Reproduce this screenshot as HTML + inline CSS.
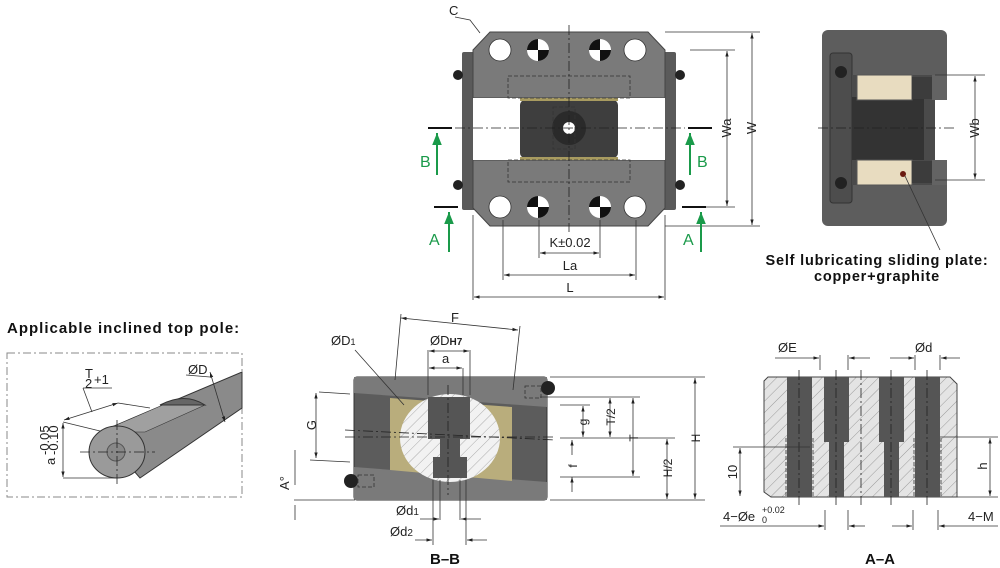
<!DOCTYPE html>
<html><head><meta charset="utf-8"><style>
html,body{margin:0;padding:0;background:#fff;}
svg{display:block;font-family:"Liberation Sans",Arial,sans-serif;}
.t{font-size:13px;fill:#222;}
.d{stroke:#333;stroke-width:0.8;fill:none;}
.c{stroke:#222;stroke-width:0.8;fill:none;stroke-dasharray:10 3 2 3;}
.h{stroke:#333;stroke-width:0.8;fill:none;stroke-dasharray:4 2;}
</style></head><body>
<svg width="1000" height="568" viewBox="0 0 1000 568" xmlns="http://www.w3.org/2000/svg">
<defs>
<pattern id="hat" width="8" height="8" patternUnits="userSpaceOnUse" patternTransform="rotate(45)">
<rect width="8" height="8" fill="#e4e4e4"/><line x1="0" y1="0" x2="0" y2="8" stroke="#888" stroke-width="0.8"/></pattern>
<pattern id="hat2" width="8" height="8" patternUnits="userSpaceOnUse" patternTransform="rotate(45)">
<rect width="8" height="8" fill="#f2f2f2"/><line x1="0" y1="0" x2="0" y2="8" stroke="#999" stroke-width="0.8"/></pattern>
<marker id="ar" viewBox="0 0 10 10" refX="10" refY="5" markerWidth="7" markerHeight="7" orient="auto-start-reverse"><path d="M0,2 L10,5 L0,8 z" fill="#222"/></marker>
<marker id="ga" viewBox="0 0 10 10" refX="10" refY="5" markerWidth="6" markerHeight="6" orient="auto"><path d="M0,1 L10,5 L0,9 z" fill="#1a9a4a"/></marker>
</defs>

<!-- ===== TOP VIEW ===== -->
<rect x="462" y="52" width="14" height="158" fill="#5a5a5a" rx="2"/>
<rect x="662" y="52" width="14" height="158" fill="#5a5a5a" rx="2"/>
<polygon points="490,32 648,32 665,50 665,98 473,98 473,50" fill="#7a7a7a" stroke="#444"/>
<polygon points="473,160 665,160 665,208 648,226 490,226 473,208" fill="#7a7a7a" stroke="#444"/>
<rect x="473" y="98" width="192" height="62" fill="#fff"/>
<rect x="520" y="100" width="98" height="58" rx="5" fill="#3e3e3e"/>
<rect x="520" y="98" width="98" height="3" fill="#a89b60"/>
<rect x="520" y="157" width="98" height="3" fill="#a89b60"/>
<circle cx="569" cy="128" r="17" fill="#2a2a2a"/><circle cx="569" cy="128" r="6" fill="#fff"/>
<circle cx="458" cy="75" r="5" fill="#222"/><circle cx="458" cy="185" r="5" fill="#222"/>
<circle cx="680" cy="75" r="5" fill="#222"/><circle cx="680" cy="185" r="5" fill="#222"/>
<g class="h"><rect x="508" y="76" width="122" height="22"/><rect x="508" y="160" width="122" height="22"/><rect x="553" y="107" width="22" height="42"/></g>
<g fill="#fff" stroke="#333" stroke-width="0.8"><circle cx="500" cy="50" r="11"/><circle cx="635" cy="50" r="11"/><circle cx="500" cy="207" r="11"/><circle cx="635" cy="207" r="11"/></g>
<g>
<circle cx="538" cy="50" r="11" fill="#fff"/><path d="M538,50 L538,39 A11,11 0 0,0 527,50 Z M538,50 L538,61 A11,11 0 0,0 549,50 Z" fill="#111"/>
<circle cx="600" cy="50" r="11" fill="#fff"/><path d="M600,50 L600,39 A11,11 0 0,0 589,50 Z M600,50 L600,61 A11,11 0 0,0 611,50 Z" fill="#111"/>
<circle cx="538" cy="207" r="11" fill="#fff"/><path d="M538,207 L538,196 A11,11 0 0,0 527,207 Z M538,207 L538,218 A11,11 0 0,0 549,207 Z" fill="#111"/>
<circle cx="600" cy="207" r="11" fill="#fff"/><path d="M600,207 L600,196 A11,11 0 0,0 589,207 Z M600,207 L600,218 A11,11 0 0,0 611,207 Z" fill="#111"/>
</g>
<line class="c" x1="569" y1="25" x2="569" y2="232"/>
<line class="c" x1="455" y1="128" x2="685" y2="128"/>
<!-- C -->
<text class="t" x="449" y="15" font-size="12">C</text>
<path class="d" d="M455,17 L470,20 L480,33"/>
<!-- W, Wa -->
<g class="d"><line x1="665" y1="32" x2="760" y2="32"/><line x1="665" y1="226" x2="760" y2="226"/><line x1="690" y1="50" x2="735" y2="50"/><line x1="690" y1="207" x2="735" y2="207"/>
<line x1="752" y1="33" x2="752" y2="225" marker-start="url(#ar)" marker-end="url(#ar)"/>
<line x1="727" y1="51" x2="727" y2="206" marker-start="url(#ar)" marker-end="url(#ar)"/></g>
<text class="t" transform="translate(756,128) rotate(-90)" text-anchor="middle" font-size="12">W</text>
<text class="t" transform="translate(731,128) rotate(-90)" text-anchor="middle" font-size="12">Wa</text>
<!-- K La L -->
<g class="d"><line x1="539" y1="220" x2="539" y2="258"/><line x1="600" y1="220" x2="600" y2="258"/>
<line x1="540" y1="253" x2="599" y2="253" marker-start="url(#ar)" marker-end="url(#ar)"/>
<line x1="503" y1="220" x2="503" y2="280"/><line x1="636" y1="220" x2="636" y2="280"/>
<line x1="504" y1="275" x2="635" y2="275" marker-start="url(#ar)" marker-end="url(#ar)"/>
<line x1="473" y1="215" x2="473" y2="300"/><line x1="665" y1="215" x2="665" y2="300"/>
<line x1="474" y1="297" x2="664" y2="297" marker-start="url(#ar)" marker-end="url(#ar)"/></g>
<text class="t" x="570" y="247" text-anchor="middle" font-size="14">K±0.02</text>
<text class="t" x="570" y="270" text-anchor="middle" font-size="13">La</text>
<text class="t" x="570" y="292" text-anchor="middle" font-size="13">L</text>
<!-- section markers -->
<g stroke="#111" stroke-width="2"><line x1="428" y1="128" x2="452" y2="128"/><line x1="688" y1="128" x2="712" y2="128"/><line x1="434" y1="207" x2="458" y2="207"/><line x1="682" y1="207" x2="706" y2="207"/></g>
<g stroke="#1a9a4a" stroke-width="2"><line x1="437" y1="175" x2="437" y2="133" marker-end="url(#ga)"/><line x1="690" y1="175" x2="690" y2="133" marker-end="url(#ga)"/><line x1="449" y1="252" x2="449" y2="212" marker-end="url(#ga)"/><line x1="701" y1="252" x2="701" y2="212" marker-end="url(#ga)"/></g>
<g fill="#1a9a4a" font-size="16"><text x="420" y="167">B</text><text x="697" y="167">B</text><text x="429" y="245">A</text><text x="683" y="245">A</text></g>

<!-- ===== SIDE VIEW ===== -->
<rect x="822" y="30" width="125" height="196" rx="6" fill="#5d5d5d"/>
<rect x="830" y="53" width="22" height="150" rx="3" fill="#4d4d4d" stroke="#333"/>
<circle cx="841" cy="72" r="6" fill="#222"/><circle cx="841" cy="183" r="6" fill="#222"/>
<rect x="852" y="75" width="95" height="110" fill="#4a4a4a"/>
<rect x="852" y="97" width="72" height="63" fill="#333"/>
<rect x="857" y="75" width="55" height="25" fill="#e8dcc0" stroke="#555"/>
<rect x="857" y="160" width="55" height="25" fill="#e8dcc0" stroke="#555"/>
<rect x="912" y="77" width="20" height="22" fill="#3c3c3c"/><rect x="912" y="161" width="20" height="22" fill="#3c3c3c"/>
<rect x="932" y="75" width="15" height="25" fill="#636363"/><rect x="932" y="160" width="15" height="25" fill="#636363"/>
<rect x="935" y="100" width="12" height="60" fill="#fff"/>
<circle cx="903" cy="174" r="3" fill="#6a1a10"/>
<line class="c" x1="818" y1="128" x2="955" y2="128"/>
<g class="d"><line x1="935" y1="75" x2="985" y2="75"/><line x1="935" y1="180" x2="985" y2="180"/><line x1="975" y1="76" x2="975" y2="179" marker-start="url(#ar)" marker-end="url(#ar)"/>
<line x1="905" y1="176" x2="940" y2="250"/></g>
<text class="t" transform="translate(979,128) rotate(-90)" text-anchor="middle" font-size="11">Wb</text>
<text x="877" y="265" text-anchor="middle" font-size="14.5" font-weight="bold" letter-spacing="0.8" fill="#111">Self lubricating sliding plate:</text>
<text x="877" y="281" text-anchor="middle" font-size="14.5" font-weight="bold" letter-spacing="0.8" fill="#111">copper+graphite</text>

<!-- ===== POLE ===== -->
<text x="7" y="333" font-size="15" font-weight="bold" letter-spacing="1" fill="#111">Applicable inclined top pole:</text>
<rect x="7" y="353" width="235" height="144" fill="none" stroke="#888" stroke-dasharray="8 3 2 3"/>
<polygon points="100,432 242,372 242,408 140,478" fill="#8a8a8a" stroke="#333"/>
<polygon points="100,432 145,432 205,405 165,404" fill="#a0a0a0" stroke="#333" stroke-width="0.6"/>
<path d="M160,405 Q185,392 205,405 Z" fill="#666" stroke="#333"/>
<ellipse cx="117" cy="452" rx="28" ry="26" fill="#9a9a9a" stroke="#333"/>
<circle cx="116" cy="452" r="9" fill="#888" stroke="#555"/>
<line class="c" x1="80" y1="452" x2="155" y2="452"/><line class="c" x1="117" y1="420" x2="117" y2="485"/>
<g class="d"><line x1="63" y1="422" x2="100" y2="431"/><line x1="63" y1="478" x2="118" y2="478"/>
<line x1="63" y1="423" x2="63" y2="477" marker-start="url(#ar)" marker-end="url(#ar)"/>
<line x1="64" y1="420" x2="118" y2="403" marker-start="url(#ar)" marker-end="url(#ar)"/>
<line x1="118" y1="403" x2="150" y2="408"/><line x1="92" y1="412" x2="83" y2="388"/><line x1="83" y1="388" x2="112" y2="388"/>
<line x1="210" y1="372" x2="225" y2="422" marker-start="url(#ar)" marker-end="url(#ar)"/><line x1="186" y1="375" x2="210" y2="377"/></g>
<text class="t" x="85" y="378" font-size="11">T</text><text class="t" x="85" y="388" font-size="11">2</text><text class="t" x="94" y="384" font-size="12">+1</text>
<text class="t" x="188" y="374" font-size="13">ØD</text>
<text class="t" transform="translate(55,465) rotate(-90)" font-size="12">a</text>
<text class="t" transform="translate(49,455) rotate(-90)" font-size="9">-0.05</text>
<text class="t" transform="translate(58,455) rotate(-90)" font-size="9">-0.10</text>

<!-- ===== B-B ===== -->
<rect x="354" y="377" width="193" height="123" rx="3" fill="#5c5c5c" stroke="#333"/>
<polygon points="354,377 547,377 547,407 354,393" fill="#7a7a7a"/>
<polygon points="354,467 547,482 547,500 354,500" fill="#7a7a7a"/>
<polygon points="390,398 512,407 512,481 390,470" fill="#b9ad7c"/>
<ellipse cx="450" cy="438" rx="50" ry="44" fill="url(#hat2)"/>
<rect x="428" y="397" width="42" height="42" fill="#555"/>
<rect x="440" y="439" width="20" height="18" fill="#555"/>
<rect x="433" y="457" width="34" height="21" fill="#555"/>
<circle cx="548" cy="388" r="7" fill="#222"/><circle cx="351" cy="481" r="7" fill="#222"/>
<g class="h"><rect x="525" y="386" width="16" height="12"/><rect x="358" y="475" width="16" height="12"/></g>
<line class="c" x1="448" y1="385" x2="448" y2="495"/>
<line class="c" x1="345" y1="430" x2="555" y2="440"/>
<line class="c" x1="345" y1="437" x2="555" y2="437"/>
<g class="d">
<line x1="395" y1="380" x2="401" y2="314"/><line x1="513" y1="390" x2="520" y2="326"/><line x1="401" y1="318" x2="518" y2="330" marker-start="url(#ar)" marker-end="url(#ar)"/>
<line x1="428" y1="350" x2="428" y2="395"/><line x1="470" y1="350" x2="470" y2="395"/><line x1="429" y1="351" x2="469" y2="351" marker-start="url(#ar)" marker-end="url(#ar)"/>
<line x1="463" y1="368" x2="463" y2="395"/><line x1="429" y1="368" x2="462" y2="368" marker-start="url(#ar)" marker-end="url(#ar)"/>
<line x1="355" y1="350" x2="404" y2="405"/>
<line x1="319" y1="392" x2="350" y2="394"/><line x1="310" y1="460" x2="350" y2="462"/><line x1="316" y1="393" x2="316" y2="458" marker-start="url(#ar)" marker-end="url(#ar)"/>
<line x1="294" y1="500" x2="355" y2="500"/><line x1="295" y1="485" x2="295" y2="450"/><line x1="295" y1="505" x2="295" y2="520"/>
<line x1="440" y1="480" x2="440" y2="520"/><line x1="460" y1="480" x2="460" y2="520"/><line x1="433" y1="480" x2="433" y2="545"/><line x1="466" y1="480" x2="466" y2="545"/>
<line x1="420" y1="519" x2="439" y2="519" marker-end="url(#ar)"/><line x1="481" y1="519" x2="461" y2="519" marker-end="url(#ar)"/>
<line x1="415" y1="540" x2="432" y2="540" marker-end="url(#ar)"/><line x1="487" y1="540" x2="467" y2="540" marker-end="url(#ar)"/>
<line x1="550" y1="377" x2="705" y2="377"/><line x1="550" y1="500" x2="705" y2="500"/><line x1="540" y1="397" x2="640" y2="397"/><line x1="560" y1="438" x2="675" y2="438"/><line x1="560" y1="477" x2="640" y2="477"/><line x1="560" y1="405" x2="590" y2="405"/>
<line x1="695" y1="378" x2="695" y2="499" marker-start="url(#ar)" marker-end="url(#ar)"/>
<line x1="667" y1="439" x2="667" y2="499" marker-start="url(#ar)" marker-end="url(#ar)"/>
<line x1="633" y1="398" x2="633" y2="476" marker-start="url(#ar)" marker-end="url(#ar)"/>
<line x1="610" y1="398" x2="610" y2="437" marker-start="url(#ar)" marker-end="url(#ar)"/>
<line x1="583" y1="406" x2="583" y2="437" marker-start="url(#ar)" marker-end="url(#ar)"/>
<line x1="572" y1="440" x2="572" y2="455" marker-start="url(#ar)"/><line x1="572" y1="477" x2="572" y2="492" marker-start="url(#ar)"/>
</g>
<text class="t" x="455" y="322" text-anchor="middle">F</text>
<text class="t" x="331" y="345">ØD<tspan font-size="9">1</tspan></text>
<text class="t" x="430" y="345">ØD<tspan font-size="10" font-weight="bold">H7</tspan></text>
<text class="t" x="442" y="363" font-size="12">a</text>
<text class="t" transform="translate(316,425) rotate(-90)" text-anchor="middle" font-size="12">G</text>
<text class="t" transform="translate(289,483) rotate(-90)" text-anchor="middle" font-size="11">A°</text>
<text class="t" x="396" y="515">Ød<tspan font-size="10">1</tspan></text>
<text class="t" x="390" y="536">Ød<tspan font-size="10">2</tspan></text>
<text x="445" y="564" text-anchor="middle" font-size="15" font-weight="bold" fill="#111">B–B</text>
<g font-size="12" fill="#222">
<text transform="translate(700,438) rotate(-90)" text-anchor="middle">H</text>
<text transform="translate(672,468) rotate(-90)" text-anchor="middle">H/2</text>
<text transform="translate(638,438) rotate(-90)" text-anchor="middle">T</text>
<text transform="translate(615,417) rotate(-90)" text-anchor="middle">T/2</text>
<text transform="translate(587,422) rotate(-90)" text-anchor="middle">g</text>
<text transform="translate(577,466) rotate(-90)" text-anchor="middle">f</text>
</g>

<!-- ===== A-A ===== -->
<polygon points="768,377 950,377 957,384 957,497 771,497 764,492 764,381" fill="url(#hat)" stroke="#444"/>
<g fill="#555">
<rect x="787" y="377" width="25" height="120"/><rect x="824" y="377" width="25" height="65"/><rect x="829" y="442" width="15" height="55"/>
<rect x="879" y="377" width="25" height="65"/><rect x="884" y="442" width="15" height="55"/><rect x="915" y="377" width="25" height="120"/>
</g>
<g class="h" stroke="#222"><line x1="786" y1="438" x2="786" y2="497"/><line x1="813" y1="438" x2="813" y2="497"/><line x1="914" y1="438" x2="914" y2="497"/><line x1="941" y1="438" x2="941" y2="497"/></g>
<g class="c"><line x1="799" y1="370" x2="799" y2="505"/><line x1="836" y1="370" x2="836" y2="505"/><line x1="861" y1="370" x2="861" y2="505"/><line x1="891" y1="370" x2="891" y2="505"/><line x1="927" y1="370" x2="927" y2="505"/></g>
<g class="d">
<line x1="820" y1="355" x2="820" y2="370"/><line x1="848" y1="355" x2="848" y2="370"/><line x1="775" y1="358" x2="819" y2="358" marker-end="url(#ar)"/><line x1="870" y1="358" x2="849" y2="358" marker-end="url(#ar)"/>
<line x1="915" y1="355" x2="915" y2="370"/><line x1="940" y1="355" x2="940" y2="370"/><line x1="890" y1="358" x2="914" y2="358" marker-end="url(#ar)"/><line x1="960" y1="358" x2="941" y2="358" marker-end="url(#ar)"/>
<line x1="733" y1="447" x2="810" y2="447"/><line x1="740" y1="448" x2="740" y2="496" marker-start="url(#ar)" marker-end="url(#ar)"/>
<line x1="940" y1="437" x2="998" y2="437"/><line x1="957" y1="497" x2="998" y2="497"/><line x1="990" y1="438" x2="990" y2="496" marker-start="url(#ar)" marker-end="url(#ar)"/>
<line x1="825" y1="510" x2="825" y2="530"/><line x1="848" y1="510" x2="848" y2="530"/><line x1="913" y1="510" x2="913" y2="530"/><line x1="938" y1="510" x2="938" y2="530"/>
<line x1="720" y1="526" x2="824" y2="526" marker-end="url(#ar)"/><line x1="865" y1="526" x2="849" y2="526" marker-end="url(#ar)"/><line x1="892" y1="526" x2="912" y2="526" marker-end="url(#ar)"/><line x1="998" y1="526" x2="939" y2="526" marker-end="url(#ar)"/>
</g>
<text class="t" x="778" y="352">ØE</text>
<text class="t" x="915" y="352">Ød</text>
<text class="t" transform="translate(737,472) rotate(-90)" text-anchor="middle">10</text>
<text class="t" transform="translate(987,466) rotate(-90)" text-anchor="middle">h</text>
<text class="t" x="723" y="521">4−Øe</text><text x="762" y="513" font-size="9" fill="#222">+0.02</text><text x="762" y="523" font-size="9" fill="#222">0</text>
<text class="t" x="968" y="521">4−M</text>
<text x="880" y="564" text-anchor="middle" font-size="15" font-weight="bold" fill="#111">A–A</text>
</svg>
</body></html>
